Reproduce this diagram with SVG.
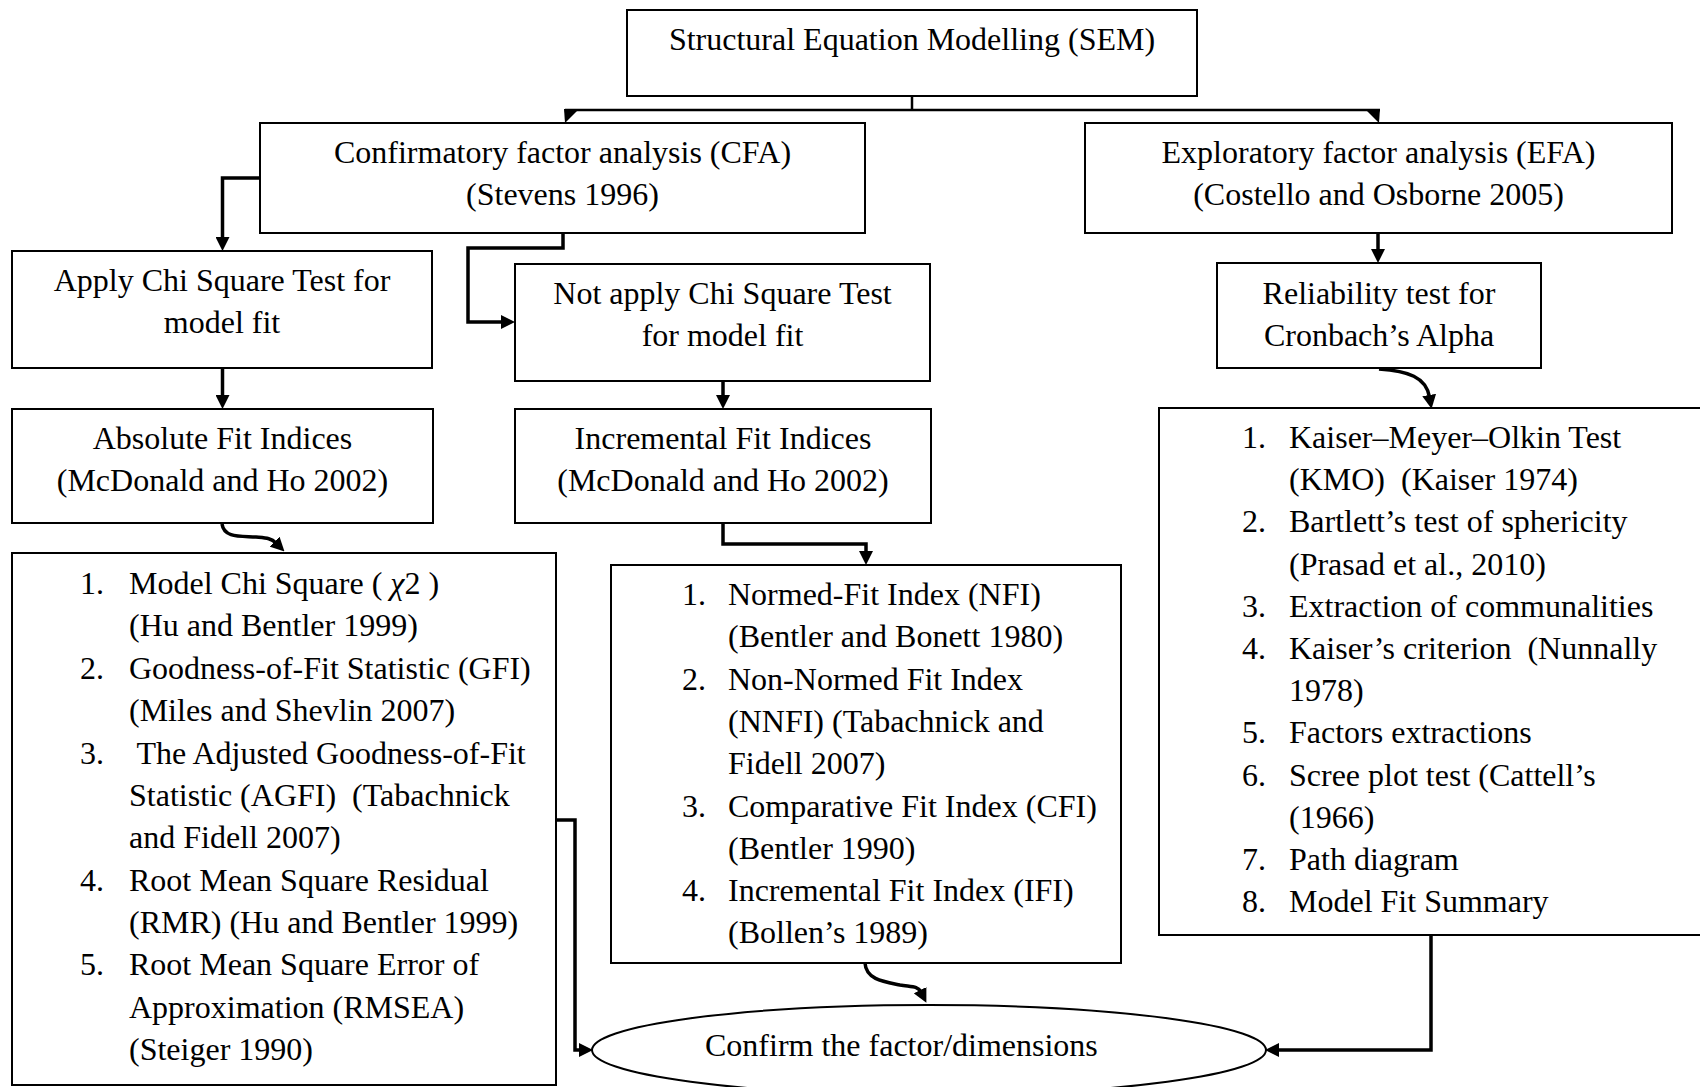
<svg xmlns="http://www.w3.org/2000/svg" width="1700" height="1087" viewBox="0 0 1700 1087">
  <defs>
    <style>
      .box { fill: #fff; stroke: #000; stroke-width: 2; }
      .t { font-family: "Liberation Serif", "Times New Roman", serif; font-size: 32px; fill: #000; white-space: pre; }
      .c { text-anchor: middle; }
      .conn { fill: none; stroke: #000; stroke-width: 3.5; }
      .thin { stroke-width: 2.5; }
      .head { fill: #000; stroke: none; }
    </style>
    <marker id="ah" markerUnits="userSpaceOnUse" markerWidth="14" markerHeight="14" viewBox="0 0 14 14" refX="2" refY="7" orient="auto">
      <path d="M0,0 L14,7 L0,14 z" fill="#000"/>
    </marker>
  </defs>

  <rect width="1700" height="1087" fill="#fff"/>

  <!-- connectors -->
  <g id="connectors">
    <path class="conn thin" d="M912,96 V110"/>
    <path class="conn thin" d="M565,110 H1380"/>
    <polygon class="head" points="564,109 579,109 565,123"/>
    <polygon class="head" points="1380,109 1365,109 1379,123"/>
    <path class="conn" d="M260,178 H222.5 V239" marker-end="url(#ah)"/>
    <path class="conn" d="M563,233 V248 H468 V322 H503" marker-end="url(#ah)"/>
    <path class="conn" d="M222.5,368 V397" marker-end="url(#ah)"/>
    <path class="conn" d="M723,381 V397" marker-end="url(#ah)"/>
    <path class="conn" d="M723,523 V544 H866 V553" marker-end="url(#ah)"/>
    <path class="conn" d="M1378,233 V251" marker-end="url(#ah)"/>
    <path class="conn" d="M222,524 C224,538 240,536 256,537 C266,538 271,538 276,543" marker-end="url(#ah)"/>
    <path class="conn" d="M865,963 C866,980 885,982 900,985 C912,987 918,986 921,992" marker-end="url(#ah)"/>
    <path class="conn" d="M1379,369 C1408,371 1426,377 1429.5,397" marker-end="url(#ah)"/>
    <path class="conn" d="M557,820 H575 V1050 H581" marker-end="url(#ah)"/>
    <path class="conn" d="M1431,935 V1050 H1277" marker-end="url(#ah)"/>
  </g>

  <!-- top node -->
  <g id="sem">
    <rect class="box" x="627" y="10" width="570" height="86"/>
    <text class="t c" x="912" y="50">Structural Equation Modelling (SEM)</text>
  </g>

  <g id="cfa">
    <rect class="box" x="260" y="123" width="605" height="110"/>
    <text class="t c" x="562.5" y="163">Confirmatory factor analysis (CFA)</text>
    <text class="t c" x="562.5" y="205">(Stevens 1996)</text>
  </g>

  <g id="efa">
    <rect class="box" x="1085" y="123" width="587" height="110"/>
    <text class="t c" x="1378.5" y="163">Exploratory factor analysis (EFA)</text>
    <text class="t c" x="1378.5" y="205">(Costello and Osborne 2005)</text>
  </g>

  <g id="apply-chi">
    <rect class="box" x="12" y="251" width="420" height="117"/>
    <text class="t c" x="222" y="291">Apply Chi Square Test for</text>
    <text class="t c" x="222" y="333">model fit</text>
  </g>

  <g id="not-apply-chi">
    <rect class="box" x="515" y="264" width="415" height="117"/>
    <text class="t c" x="722.5" y="304">Not apply Chi Square Test</text>
    <text class="t c" x="722.5" y="346">for model fit</text>
  </g>

  <g id="reliability">
    <rect class="box" x="1217" y="263" width="324" height="105"/>
    <text class="t c" x="1379" y="304">Reliability test for</text>
    <text class="t c" x="1379" y="346">Cronbach’s Alpha</text>
  </g>

  <g id="absolute">
    <rect class="box" x="12" y="409" width="421" height="114"/>
    <text class="t c" x="222.5" y="449">Absolute Fit Indices</text>
    <text class="t c" x="222.5" y="491">(McDonald and Ho 2002)</text>
  </g>

  <g id="incremental">
    <rect class="box" x="515" y="409" width="416" height="114"/>
    <text class="t c" x="723" y="449">Incremental Fit Indices</text>
    <text class="t c" x="723" y="491">(McDonald and Ho 2002)</text>
  </g>

  <g id="efa-steps">
    <rect class="box" x="1159" y="408" width="546" height="527"/>
    <text class="t" x="1242" y="448">1.</text>
    <text class="t" x="1289" y="448">Kaiser–Meyer–Olkin Test</text>
    <text class="t" x="1289" y="490">(KMO)  (Kaiser 1974)</text>
    <text class="t" x="1242" y="532">2.</text>
    <text class="t" x="1289" y="532">Bartlett’s test of sphericity</text>
    <text class="t" x="1289" y="575">(Prasad et al., 2010)</text>
    <text class="t" x="1242" y="617">3.</text>
    <text class="t" x="1289" y="617">Extraction of communalities</text>
    <text class="t" x="1242" y="659">4.</text>
    <text class="t" x="1289" y="659">Kaiser’s criterion  (Nunnally</text>
    <text class="t" x="1289" y="701">1978)</text>
    <text class="t" x="1242" y="743">5.</text>
    <text class="t" x="1289" y="743">Factors extractions</text>
    <text class="t" x="1242" y="786">6.</text>
    <text class="t" x="1289" y="786">Scree plot test (Cattell’s</text>
    <text class="t" x="1289" y="828">(1966)</text>
    <text class="t" x="1242" y="870">7.</text>
    <text class="t" x="1289" y="870">Path diagram</text>
    <text class="t" x="1242" y="912">8.</text>
    <text class="t" x="1289" y="912">Model Fit Summary</text>
  </g>

  <g id="absolute-list">
    <rect class="box" x="12" y="553" width="544" height="532"/>
    <text class="t" x="80" y="594">1.</text>
    <text class="t" x="129" y="594">Model Chi Square ( <tspan font-style="italic">χ</tspan>2 )</text>
    <text class="t" x="129" y="636">(Hu and Bentler 1999)</text>
    <text class="t" x="80" y="679">2.</text>
    <text class="t" x="129" y="679">Goodness-of-Fit Statistic (GFI)</text>
    <text class="t" x="129" y="721">(Miles and Shevlin 2007)</text>
    <text class="t" x="80" y="764">3.</text>
    <text class="t" x="129" y="764"> The Adjusted Goodness-of-Fit</text>
    <text class="t" x="129" y="806">Statistic (AGFI)  (Tabachnick</text>
    <text class="t" x="129" y="848">and Fidell 2007)</text>
    <text class="t" x="80" y="891">4.</text>
    <text class="t" x="129" y="891">Root Mean Square Residual</text>
    <text class="t" x="129" y="933">(RMR) (Hu and Bentler 1999)</text>
    <text class="t" x="80" y="975">5.</text>
    <text class="t" x="129" y="975">Root Mean Square Error of</text>
    <text class="t" x="129" y="1018">Approximation (RMSEA)</text>
    <text class="t" x="129" y="1060">(Steiger 1990)</text>
  </g>

  <g id="incremental-list">
    <rect class="box" x="611" y="565" width="510" height="398"/>
    <text class="t" x="682" y="605">1.</text>
    <text class="t" x="728" y="605">Normed-Fit Index (NFI)</text>
    <text class="t" x="728" y="647">(Bentler and Bonett 1980)</text>
    <text class="t" x="682" y="690">2.</text>
    <text class="t" x="728" y="690">Non-Normed Fit Index</text>
    <text class="t" x="728" y="732">(NNFI) (Tabachnick and</text>
    <text class="t" x="728" y="774">Fidell 2007)</text>
    <text class="t" x="682" y="817">3.</text>
    <text class="t" x="728" y="817">Comparative Fit Index (CFI)</text>
    <text class="t" x="728" y="859">(Bentler 1990)</text>
    <text class="t" x="682" y="901">4.</text>
    <text class="t" x="728" y="901">Incremental Fit Index (IFI)</text>
    <text class="t" x="728" y="943">(Bollen’s 1989)</text>
  </g>

  <g id="confirm">
    <ellipse class="box" cx="929" cy="1050" rx="337" ry="45"/>
    <text class="t" x="705" y="1056">Confirm the factor/dimensions</text>
  </g>
</svg>
